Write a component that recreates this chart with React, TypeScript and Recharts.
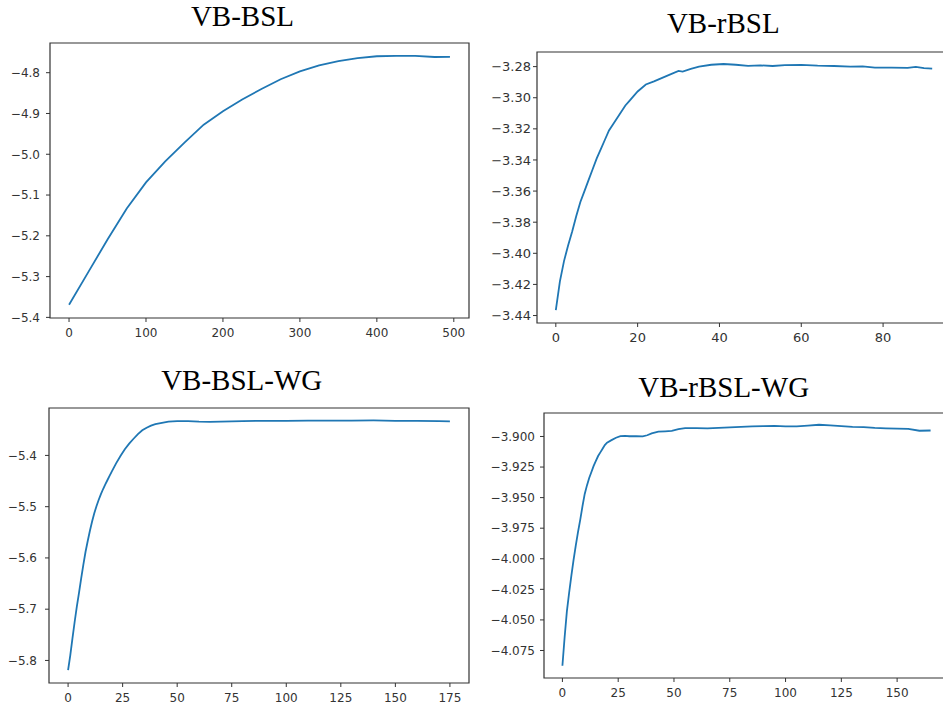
import { LineChart, Line, XAxis, YAxis, ReferenceArea } from "recharts"

// VB-BSL
const bslX = [0, 25, 50, 75, 100, 125, 150, 175, 200, 225, 250, 275, 300, 325, 350, 375, 400, 425, 450, 475, 495]
const bslY = [-5.369, -5.289, -5.209, -5.133, -5.069, -5.0175, -4.9713, -4.9275, -4.8946, -4.8658, -4.8398, -4.816, -4.797, -4.782, -4.7714, -4.7645, -4.7597, -4.7587, -4.759, -4.7615, -4.761]

// VB-rBSL
const rbslX = [0, 1, 2, 3, 4, 5, 6, 7, 8, 9, 10, 11, 12, 13, 14, 15, 16, 17, 18, 19, 20, 22, 24, 26, 28, 30, 31, 33, 35, 38, 41, 44, 47, 50, 53, 56, 60, 64, 68, 72, 75, 78, 82, 86, 88, 90, 92]
const rbslY = [-3.4365, -3.418, -3.405, -3.395, -3.386, -3.376, -3.367, -3.36, -3.353, -3.346, -3.339, -3.333, -3.327, -3.321, -3.317, -3.313, -3.309, -3.305, -3.302, -3.299, -3.296, -3.2915, -3.2895, -3.2872, -3.285, -3.2828, -3.2832, -3.2815, -3.28, -3.2788, -3.2783, -3.2788, -3.2795, -3.2792, -3.2796, -3.279, -3.2789, -3.2794, -3.2796, -3.28, -3.2798, -3.2806, -3.2806, -3.2808, -3.2802, -3.281, -3.2813]

// VB-BSL-WG
const bslWgX = [0, 1, 2, 3, 4, 5, 6, 7, 8, 9, 10, 11, 12, 13, 14, 15, 16, 17, 18, 19, 20, 22, 24, 26, 28, 30, 32, 34, 36, 38, 40, 43, 46, 50, 55, 60, 65, 70, 75, 80, 90, 100, 110, 120, 130, 140, 150, 160, 170, 175]
const bslWgY = [-5.8187, -5.79, -5.757, -5.725, -5.695, -5.668, -5.64, -5.613, -5.588, -5.567, -5.547, -5.529, -5.513, -5.499, -5.487, -5.476, -5.466, -5.457, -5.4485, -5.44, -5.4315, -5.4155, -5.401, -5.388, -5.377, -5.3675, -5.3585, -5.351, -5.346, -5.342, -5.339, -5.3365, -5.334, -5.333, -5.333, -5.334, -5.3345, -5.334, -5.3335, -5.333, -5.3325, -5.3325, -5.332, -5.332, -5.332, -5.3318, -5.3325, -5.3328, -5.3332, -5.3335]

// VB-rBSL-WG
const rbslWgX = [0, 1, 2, 3, 4, 5, 6, 7, 8, 9, 10, 11, 12, 13, 14, 15, 16, 17, 18, 19, 20, 22, 24, 26, 28, 30, 33, 36, 38, 40, 43, 46, 49, 52, 55, 60, 65, 70, 75, 80, 85, 90, 95, 100, 105, 110, 115, 120, 125, 130, 135, 140, 145, 150, 155, 160, 165]
const rbslWgY = [-4.0875, -4.064, -4.043, -4.028, -4.014, -4.001, -3.989, -3.978, -3.968, -3.957, -3.947, -3.94, -3.934, -3.929, -3.924, -3.92, -3.916, -3.913, -3.91, -3.907, -3.905, -3.903, -3.901, -3.8997, -3.8995, -3.8998, -3.8998, -3.8999, -3.899, -3.8975, -3.896, -3.8958, -3.8955, -3.894, -3.8932, -3.8932, -3.8934, -3.893, -3.8926, -3.8922, -3.8918, -3.8916, -3.8913, -3.8918, -3.8918, -3.8912, -3.8904, -3.891, -3.8915, -3.8922, -3.8924, -3.893, -3.8933, -3.8935, -3.8937, -3.8953, -3.8951]

// tick labels
const bslXTicks = [0, 100, 200, 300, 400, 500]
const bslYTicks = [-5.4, -5.3, -5.2, -5.1, -5.0, -4.9, -4.8]
const rbslXTicks = [0, 20, 40, 60, 80]
const rbslYTicks = [-3.44, -3.42, -3.4, -3.38, -3.36, -3.34, -3.32, -3.3, -3.28]
const bslWgXTicks = [0, 25, 50, 75, 100, 125, 150, 175]
const bslWgYTicks = [-5.8, -5.7, -5.6, -5.5, -5.4]
const rbslWgXTicks = [0, 25, 50, 75, 100, 125, 150]
const rbslWgYTicks = [-4.075, -4.05, -4.025, -4.0, -3.975, -3.95, -3.925, -3.9]

const INK = "#333"
const TICK_FONT = "DejaVu Sans"

type Box = { left: number; top: number; width: number; height: number }

function Panel(props: {
  xs: number[]
  ys: number[]
  xDomain: [number, number]
  yDomain: [number, number]
  xTicks: number[]
  yTicks: number[]
  digits: number
  box: Box
  fontSize: number
  yGap: number
}) {
  const { xs, ys, xDomain, yDomain, xTicks, yTicks, digits, box, fontSize, yGap } = props
  const data = xs.map((x, i) => ({ x, y: ys[i] }))
  const fmt = (v: number) => v.toFixed(digits).replace(/-/g, "\u2212")
  const tickStyle = { fill: INK, fontSize, fontFamily: TICK_FONT }
  return (
    <div style={{ position: "absolute", left: box.left - 60, top: box.top - 10 }}>
      <LineChart
        width={box.width + 70}
        height={box.height + 40}
        data={data}
        margin={{ top: 10, right: 10, bottom: 0, left: 0 }}
      >
        <XAxis
          type="number"
          dataKey="x"
          domain={xDomain}
          ticks={xTicks}
          interval={0}
          allowDataOverflow
          height={30}
          tickSize={4}
          tickMargin={6}
          axisLine={false}
          stroke={INK}
          tick={tickStyle}
        />
        <YAxis
          type="number"
          domain={yDomain}
          ticks={yTicks}
          interval={0}
          allowDataOverflow
          width={60}
          tickSize={4}
          tickMargin={yGap}
          tickFormatter={fmt}
          axisLine={false}
          stroke={INK}
          tick={tickStyle}
        />
        <ReferenceArea
          x1={xDomain[0]}
          x2={xDomain[1]}
          y1={yDomain[0]}
          y2={yDomain[1]}
          fill="none"
          fillOpacity={0}
          stroke={INK}
          strokeWidth={1.2}
        />
        <Line
          type="linear"
          dataKey="y"
          stroke="#1f77b4"
          strokeWidth={1.8}
          dot={false}
          isAnimationActive={false}
        />
      </LineChart>
    </div>
  )
}

const titleStyle = { fontFamily: "Liberation Serif", fontSize: 29, fill: "#000" }

export default function App() {
  return (
    <div
      style={{
        position: "absolute",
        left: 0,
        top: 0,
        width: 943,
        height: 709,
        overflow: "hidden",
        background: "#fff",
        fontFamily: TICK_FONT,
      }}
    >
      <Panel
        xs={bslX}
        ys={bslY}
        xDomain={[-24.75, 519.75]}
        yDomain={[-5.4015, -4.7272]}
        xTicks={bslXTicks}
        yTicks={bslYTicks}
        digits={1}
        box={{ left: 50, top: 43, width: 419, height: 275 }}
        fontSize={12}
        yGap={6}
      />
      <Panel
        xs={rbslX}
        ys={rbslY}
        xDomain={[-4.6, 96.6]}
        yDomain={[-3.4448, -3.2706]}
        xTicks={rbslXTicks}
        yTicks={rbslYTicks}
        digits={2}
        box={{ left: 537, top: 52, width: 414, height: 271 }}
        fontSize={13}
        yGap={2}
      />
      <Panel
        xs={bslWgX}
        ys={bslWgY}
        xDomain={[-8.75, 183.75]}
        yDomain={[-5.844, -5.3075]}
        xTicks={bslWgXTicks}
        yTicks={bslWgYTicks}
        digits={1}
        box={{ left: 49, top: 408, width: 420, height: 275 }}
        fontSize={12}
        yGap={8}
      />
      <Panel
        xs={rbslWgX}
        ys={rbslWgY}
        xDomain={[-8.25, 173.25]}
        yDomain={[-4.0975, -3.8808]}
        xTicks={rbslWgXTicks}
        yTicks={rbslWgYTicks}
        digits={3}
        box={{ left: 544, top: 413, width: 405, height: 265 }}
        fontSize={12}
        yGap={5}
      />
      <svg
        width={943}
        height={709}
        style={{ position: "absolute", left: 0, top: 0, pointerEvents: "none" }}
      >
        <text x={242.5} y={25.7} textAnchor="middle" style={titleStyle}>VB-BSL</text>
        <text x={723.3} y={33.3} textAnchor="middle" style={titleStyle}>VB-rBSL</text>
        <text x={241.7} y={390} textAnchor="middle" style={titleStyle}>VB-BSL-WG</text>
        <text x={723.7} y={396.7} textAnchor="middle" style={titleStyle}>VB-rBSL-WG</text>
      </svg>
    </div>
  )
}
